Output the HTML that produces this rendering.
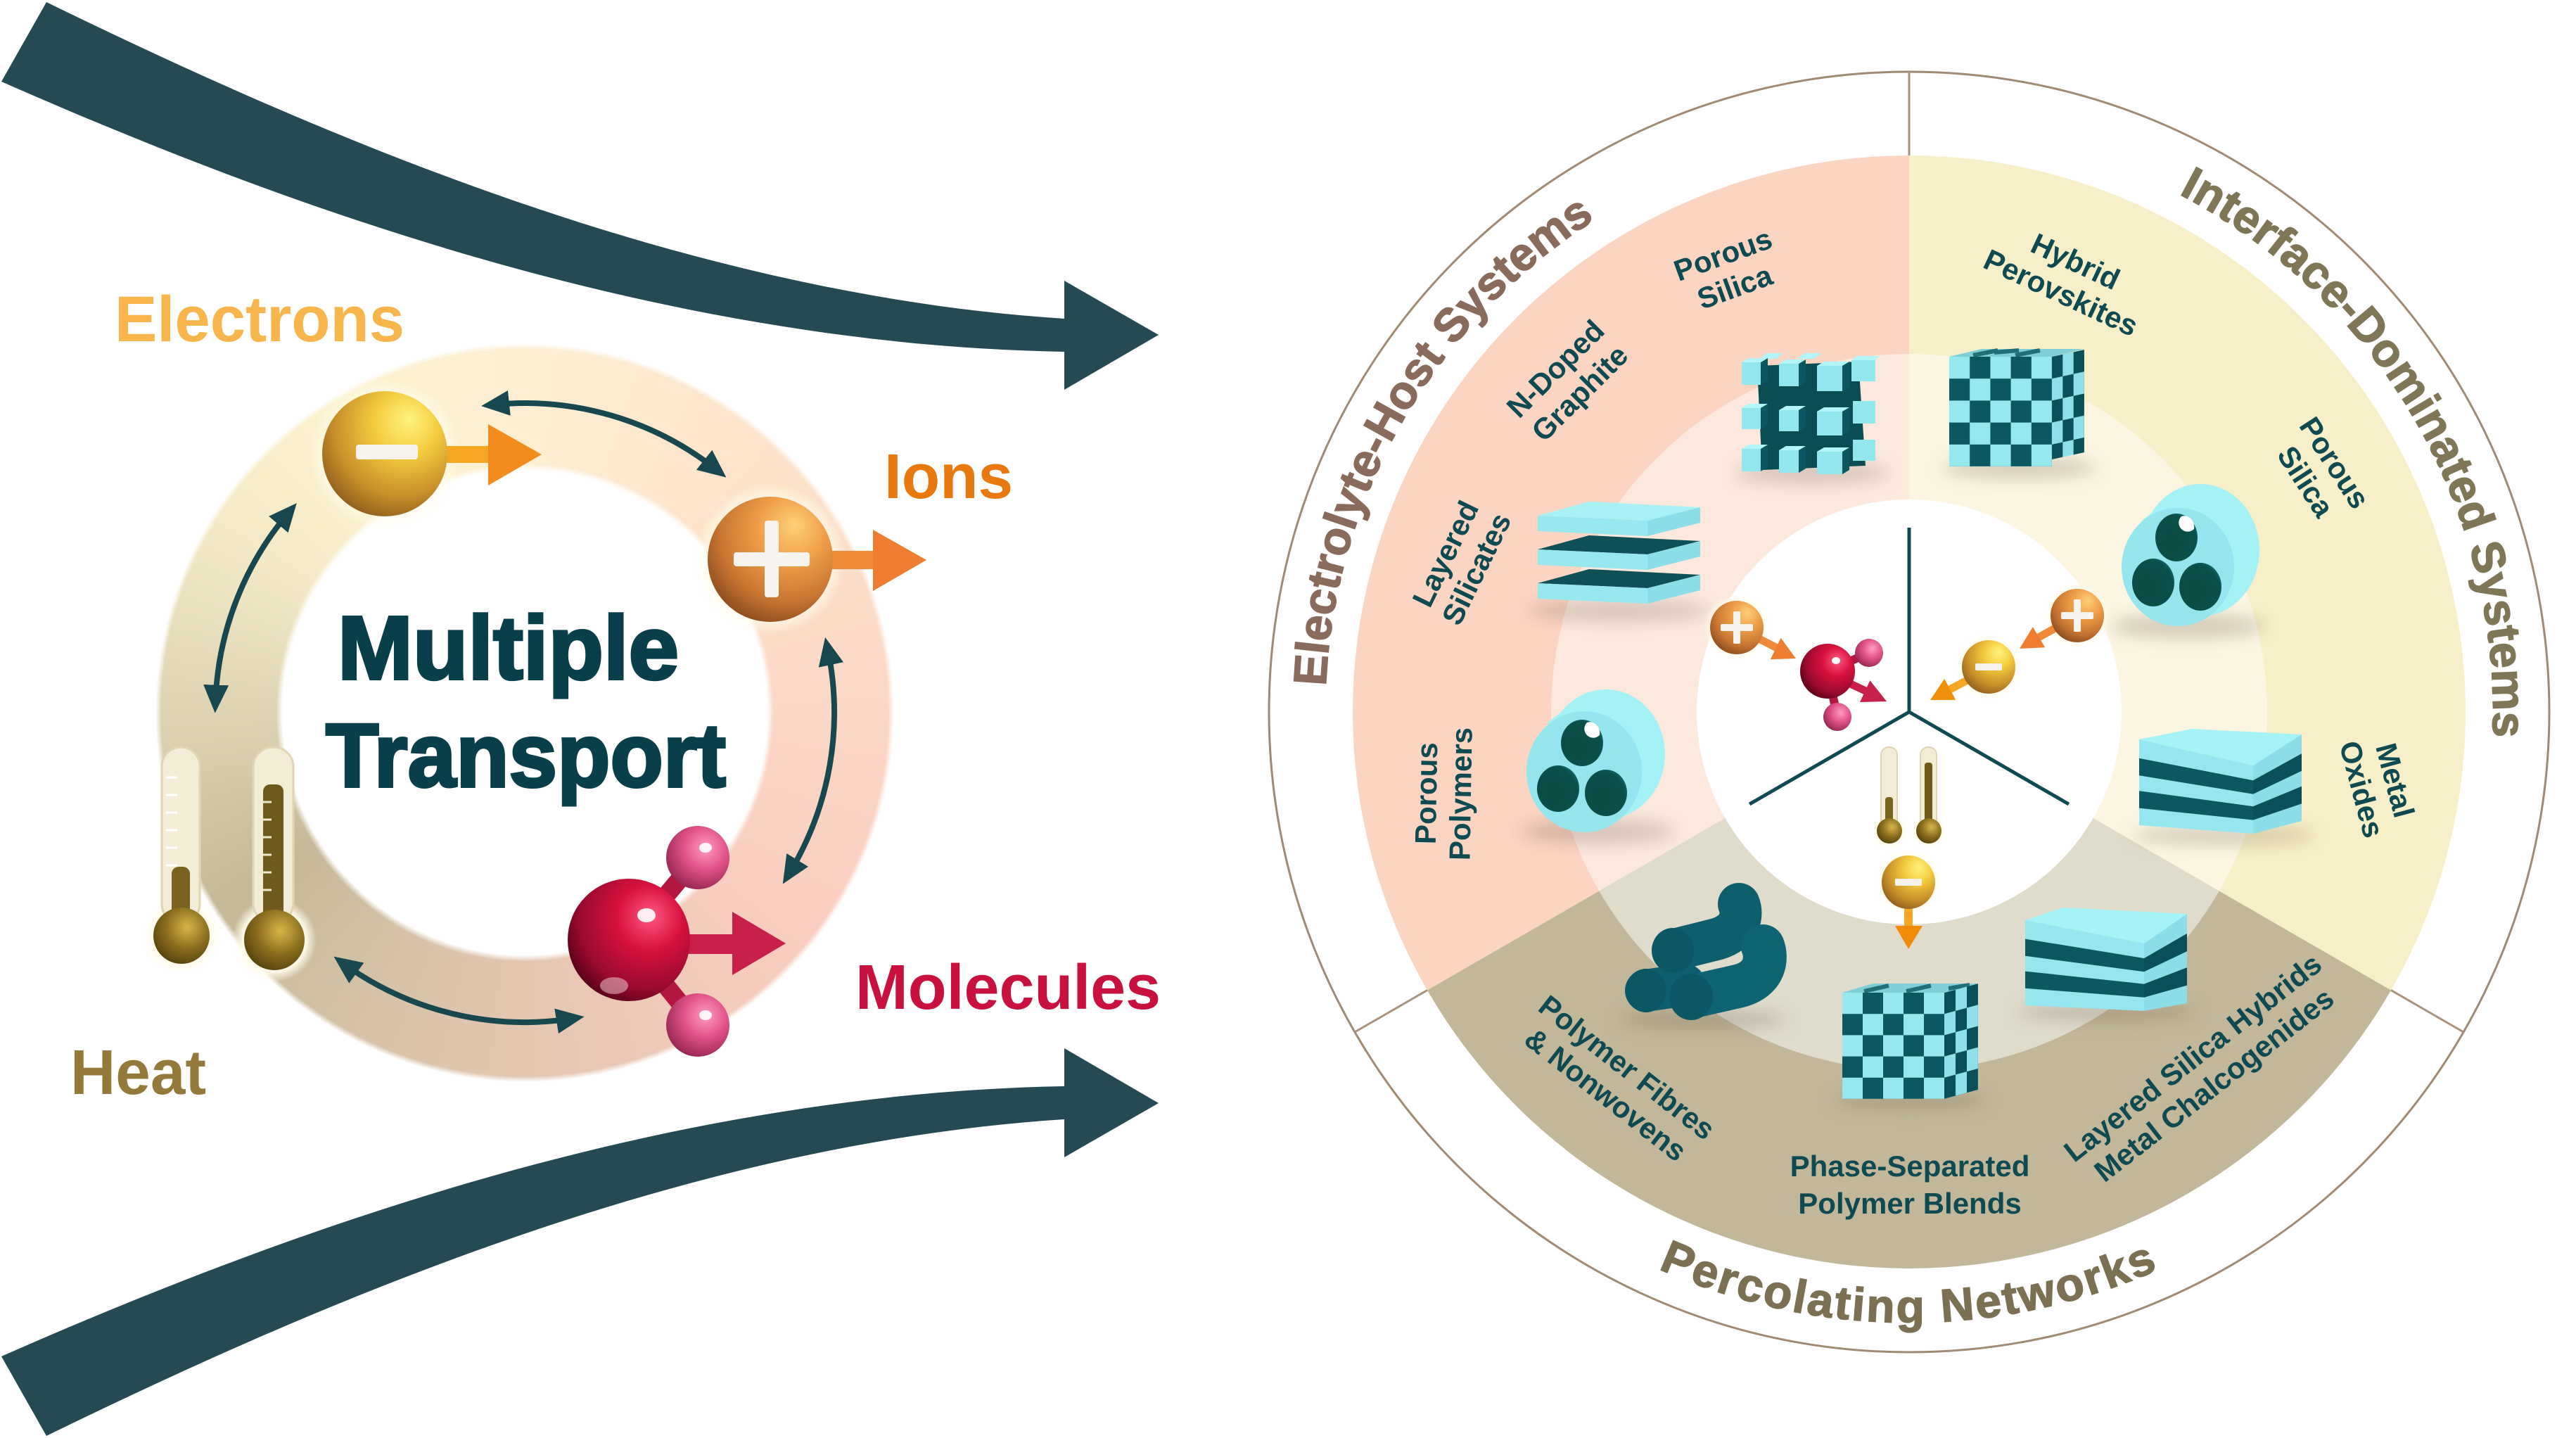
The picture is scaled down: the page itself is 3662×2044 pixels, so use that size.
<!DOCTYPE html>
<html>
<head>
<meta charset="utf-8">
<style>
html,body{margin:0;padding:0;background:#fff;}
body{width:3662px;height:2044px;position:relative;overflow:hidden;}
#ring{position:absolute;left:221px;top:488px;width:1050px;height:1050px;border-radius:50%;
background:conic-gradient(from 0deg,#fdeed3 0deg,#fde3c9 45deg,#fcd7c6 90deg,#f9cdbf 130deg,#e6c7b2 175deg,#d5c2a6 210deg,#c6b997 238deg,#dcd2b1 268deg,#f3eac5 300deg,#fcf2cd 330deg,#fdeed3 360deg);
-webkit-mask:radial-gradient(circle closest-side,transparent 65.6%,#000 67.4%,#000 98.4%,transparent 100%);
mask:radial-gradient(circle closest-side,transparent 65.6%,#000 67.4%,#000 98.4%,transparent 100%);}
svg{position:absolute;left:0;top:0;}
text{font-family:"Liberation Sans",Arial,sans-serif;font-weight:bold;}
</style>
</head>
<body>
<div id="ring"></div>
<svg width="3662" height="2044" viewBox="0 0 3662 2044" xmlns="http://www.w3.org/2000/svg">
<defs>
  <radialGradient id="gold" cx="0.62" cy="0.32" r="0.75" fx="0.7" fy="0.22">
    <stop offset="0" stop-color="#fff47e"/><stop offset="0.35" stop-color="#f3cb3e"/><stop offset="0.72" stop-color="#c9902a"/><stop offset="1" stop-color="#8a5a1c"/>
  </radialGradient>
  <radialGradient id="orng" cx="0.62" cy="0.32" r="0.75" fx="0.7" fy="0.22">
    <stop offset="0" stop-color="#ffd07a"/><stop offset="0.35" stop-color="#f0a048"/><stop offset="0.72" stop-color="#c97632"/><stop offset="1" stop-color="#86481c"/>
  </radialGradient>
  <radialGradient id="red" cx="0.65" cy="0.35" r="0.75" fx="0.68" fy="0.3">
    <stop offset="0" stop-color="#ff5a82"/><stop offset="0.35" stop-color="#d8123f"/><stop offset="0.75" stop-color="#980a2e"/><stop offset="1" stop-color="#4a0012"/>
  </radialGradient>
  <radialGradient id="pink" cx="0.62" cy="0.35" r="0.75">
    <stop offset="0" stop-color="#ff9cc2"/><stop offset="0.45" stop-color="#e2538a"/><stop offset="1" stop-color="#8a1f48"/>
  </radialGradient>
  <radialGradient id="bulb" cx="0.6" cy="0.35" r="0.75">
    <stop offset="0" stop-color="#d8b64a"/><stop offset="0.5" stop-color="#8c6f1e"/><stop offset="1" stop-color="#4c3a0a"/>
  </radialGradient>
  <radialGradient id="halo" cx="0.5" cy="0.5" r="0.5">
    <stop offset="0.75" stop-color="#fffbea" stop-opacity="0.95"/><stop offset="1" stop-color="#fffbea" stop-opacity="0"/>
  </radialGradient>
  <radialGradient id="hole" cx="0.4" cy="0.6" r="0.7">
    <stop offset="0" stop-color="#0a4a40"/><stop offset="0.8" stop-color="#0b4f4a"/><stop offset="1" stop-color="#127080"/>
  </radialGradient>
  <filter id="blur" x="-50%" y="-50%" width="200%" height="200%"><feGaussianBlur stdDeviation="12"/></filter>
  <marker id="ah" viewBox="0 0 10 10" refX="6" refY="5" markerWidth="40" markerHeight="40" markerUnits="userSpaceOnUse" orient="auto-start-reverse">
    <path d="M0,0.5 L10,5 L0,9.5 Z" fill="#17474f"/>
  </marker>
  <pattern id="chk1" patternUnits="userSpaceOnUse" x="2771" y="507" width="58.4" height="62.4">
    <rect width="58.4" height="62.4" fill="#96e8ef"/><rect x="29.2" width="29.2" height="31.2" fill="#0c5862"/><rect y="31.2" width="29.2" height="31.2" fill="#0c5862"/>
  </pattern>
  <pattern id="chkR1" patternUnits="userSpaceOnUse" x="0" y="0" width="30.66" height="62.4">
    <rect width="30.66" height="62.4" fill="#8ee0ea"/><rect width="15.33" height="31.2" fill="#0a505a"/><rect x="15.33" y="31.2" width="15.33" height="31.2" fill="#0a505a"/>
  </pattern>
  <pattern id="chk2" patternUnits="userSpaceOnUse" x="2619" y="1411" width="58" height="60.4">
    <rect width="58" height="60.4" fill="#96e8ef"/><rect x="29" width="29" height="30.2" fill="#0c5862"/><rect y="30.2" width="29" height="30.2" fill="#0c5862"/>
  </pattern>
  <pattern id="chkR2" patternUnits="userSpaceOnUse" x="0" y="0" width="32" height="60.4">
    <rect width="32" height="60.4" fill="#8ee0ea"/><rect width="16" height="30.2" fill="#0a505a"/><rect x="16" y="30.2" width="16" height="30.2" fill="#0a505a"/>
  </pattern>
  <path id="pElec" d="M 1934 1295.9 A 830 830 0 0 1 2569.9 194.6"/>
  <path id="pInt" d="M 2858.1 194.6 A 830 830 0 0 1 3494 1295.9"/>
  <path id="pPerc" d="M 2049.1 1569.9 A 868 868 0 0 0 3378.9 1569.9"/>
</defs>

<!-- ============ LEFT: swooshes ============ -->
<path d="M 66,3 C 500,215 1000,420 1513,453 L 1513,399 L 1647,476 L 1513,554 L 1513,500 C 950,490 420,300 2,116 Z" fill="#244b54"/>
<path d="M 66,2041 C 500,1829 1000,1624 1513,1591 L 1513,1645 L 1647,1568 L 1513,1490 L 1513,1544 C 950,1554 420,1744 2,1928 Z" fill="#244b54"/>

<!-- labels -->
<text x="163" y="485" font-size="92" fill="#f8b54b" textLength="412" lengthAdjust="spacingAndGlyphs">Electrons</text>
<text x="1257" y="708" font-size="90" fill="#e8790f" textLength="183" lengthAdjust="spacingAndGlyphs">Ions</text>
<text x="1216" y="1434" font-size="90" fill="#c8113f" textLength="434" lengthAdjust="spacingAndGlyphs">Molecules</text>
<text x="100" y="1555" font-size="90" fill="#94793a" textLength="193" lengthAdjust="spacingAndGlyphs">Heat</text>
<text x="480" y="965" font-size="128" fill="#083f4a" stroke="#083f4a" stroke-width="4" textLength="485" lengthAdjust="spacingAndGlyphs">Multiple</text>
<text x="463" y="1118" font-size="128" fill="#083f4a" stroke="#083f4a" stroke-width="4" textLength="569" lengthAdjust="spacingAndGlyphs">Transport</text>

<!-- double arrows -->
<g fill="none" stroke="#17474f" stroke-width="8" marker-start="url(#ah)" marker-end="url(#ah)">
  <path d="M 700.0 575.4 A 440 440 0 0 1 1019.9 668.7"/>
  <path d="M 411.4 727.3 A 440 440 0 0 0 306.3 997.6"/>
  <path d="M 1176.4 921.5 A 440 440 0 0 1 1121.1 1242.9"/>
  <path d="M 487.4 1369.0 A 440 440 0 0 0 814.8 1447.6"/>
</g>

<!-- electron -->
<circle cx="547" cy="645" r="108" fill="url(#halo)"/>
<rect x="628" y="634" width="68" height="24" fill="#f5a623"/>
<polygon points="694,603 770,646 694,690" fill="#f28c1c"/>
<circle cx="547" cy="645" r="89" fill="url(#gold)"/>
<rect x="506" y="632" width="88" height="21" rx="4" fill="#f7f3ec"/>

<!-- ion -->
<circle cx="1095" cy="795" r="108" fill="url(#halo)"/>
<rect x="1175" y="783" width="68" height="26" fill="#f08a36"/>
<polygon points="1241,753 1317,796 1241,840" fill="#ef7d2f"/>
<circle cx="1095" cy="795" r="89" fill="url(#orng)"/>
<rect x="1043" y="785" width="108" height="20" rx="4" fill="#f7f3ee"/>
<rect x="1087" y="740" width="20" height="109" rx="4" fill="#f7f3ee"/>

<!-- molecule -->
<rect x="975" y="1328" width="68" height="28" fill="#c8204a"/>
<polygon points="1041,1296 1117,1341 1041,1386" fill="#c8204a"/>
<line x1="894" y1="1336" x2="992" y2="1219" stroke="#b3173f" stroke-width="26"/>
<line x1="894" y1="1336" x2="992" y2="1457" stroke="#b3173f" stroke-width="26"/>
<circle cx="992" cy="1219" r="45" fill="url(#pink)"/>
<circle cx="992" cy="1457" r="45" fill="url(#pink)"/>
<circle cx="894" cy="1336" r="87" fill="url(#red)"/>
<ellipse cx="919" cy="1301" rx="13" ry="10" fill="#fff" opacity="0.9"/>
<ellipse cx="873" cy="1401" rx="20" ry="12" fill="#e8b4c0" opacity="0.6"/>
<ellipse cx="1003" cy="1205" rx="9" ry="7" fill="#fff" opacity="0.9"/>
<ellipse cx="1003" cy="1443" rx="9" ry="7" fill="#fff" opacity="0.9"/>

<!-- thermometers (left) -->
<circle cx="258" cy="1330" r="54" fill="url(#halo)"/>
<rect x="230" y="1062" width="54" height="250" rx="27" fill="#f3ecd6" stroke="#e2d5b2" stroke-width="3"/>
<rect x="244" y="1232" width="26" height="90" rx="10" fill="#7a6320"/>
<circle cx="258" cy="1330" r="40" fill="url(#bulb)"/>
<g stroke="#ffffff" stroke-width="3"><line x1="236" y1="1105" x2="252" y2="1105"/><line x1="236" y1="1130" x2="252" y2="1130"/><line x1="236" y1="1155" x2="252" y2="1155"/><line x1="236" y1="1180" x2="252" y2="1180"/><line x1="236" y1="1205" x2="252" y2="1205"/><line x1="236" y1="1230" x2="252" y2="1230"/></g>
<circle cx="390" cy="1336" r="60" fill="url(#halo)"/>
<rect x="360" y="1062" width="57" height="250" rx="28" fill="#f3ecd6" stroke="#e2d5b2" stroke-width="3"/>
<rect x="374" y="1115" width="29" height="205" rx="10" fill="#6e5a1c"/>
<circle cx="390" cy="1336" r="43" fill="url(#bulb)"/>
<g stroke="#f0e8d0" stroke-width="3"><line x1="368" y1="1140" x2="386" y2="1140"/><line x1="368" y1="1165" x2="386" y2="1165"/><line x1="368" y1="1190" x2="386" y2="1190"/><line x1="368" y1="1215" x2="386" y2="1215"/><line x1="368" y1="1240" x2="386" y2="1240"/><line x1="368" y1="1265" x2="386" y2="1265"/></g>

<!-- ============ RIGHT: circle ============ -->
<circle cx="2714" cy="1012" r="910" fill="#ffffff" stroke="#a08a74" stroke-width="3"/>
<path d="M 2714 1012 L 2029 1407.5 A 791 791 0 0 1 2714 221 Z" fill="#fcd5c2"/>
<path d="M 2714 1012 L 2714 221 A 791 791 0 0 1 3399 1407.5 Z" fill="#f7efc7"/>
<path d="M 2714 1012 L 3399 1407.5 A 791 791 0 0 1 2029 1407.5 Z" fill="#c2b899"/>
<path d="M 2714 1012 L 2273.2 1266.5 A 509 509 0 0 1 2714 503 Z" fill="#fde8de"/>
<path d="M 2714 1012 L 2714 503 A 509 509 0 0 1 3154.8 1266.5 Z" fill="#fbf5e2"/>
<path d="M 2714 1012 L 3154.8 1266.5 A 509 509 0 0 1 2273.2 1266.5 Z" fill="#e0dccc"/>
<circle cx="2714" cy="1012" r="302" fill="#ffffff"/>
<g stroke="#a9927c" stroke-width="3">
  <line x1="2714" y1="221" x2="2714" y2="102"/>
  <line x1="3399" y1="1407.5" x2="3502.1" y2="1467"/>
  <line x1="2029" y1="1407.5" x2="1925.9" y2="1467"/>
</g>
<g stroke="#0f4a52" stroke-width="5">
  <line x1="2714" y1="1012" x2="2714" y2="750"/>
  <line x1="2714" y1="1012" x2="2487.1" y2="1143"/>
  <line x1="2714" y1="1012" x2="2940.9" y2="1143"/>
</g>

<!-- curved titles -->
<text font-size="66" fill="#8a6a5a" stroke="#8a6a5a" stroke-width="1.5" letter-spacing="0"><textPath href="#pElec" startOffset="50%" text-anchor="middle">Electrolyte-Host Systems</textPath></text>
<text font-size="66" fill="#7f7655" stroke="#7f7655" stroke-width="1.5" letter-spacing="0.5"><textPath href="#pInt" startOffset="50%" text-anchor="middle">Interface-Dominated Systems</textPath></text>
<text font-size="66" fill="#7b7052" stroke="#7b7052" stroke-width="1.5" letter-spacing="3"><textPath href="#pPerc" startOffset="50%" text-anchor="middle">Percolating Networks</textPath></text>

<!-- shadows -->
<g fill="#6b5a48" opacity="0.28" filter="url(#blur)">
  <ellipse cx="2575" cy="672" rx="110" ry="14"/>
  <ellipse cx="2870" cy="665" rx="110" ry="14"/>
  <ellipse cx="2300" cy="868" rx="130" ry="14"/>
  <ellipse cx="2270" cy="1182" rx="110" ry="16"/>
  <ellipse cx="3110" cy="890" rx="110" ry="16"/>
  <ellipse cx="3160" cy="1187" rx="130" ry="12"/>
  <ellipse cx="2420" cy="1449" rx="120" ry="14"/>
  <ellipse cx="2715" cy="1564" rx="110" ry="13"/>
  <ellipse cx="2995" cy="1439" rx="130" ry="12"/>
</g>

<!-- 3D grid (porous silica) -->
<polygon points="2498,520 2642,514 2652,662 2505,668" fill="#0a4d55"/>
<g>
  <polygon points="2501,510 2511,502 2535,502 2525,510" fill="#b3f5f8"/>
  <polygon points="2555,510 2565,502 2589,502 2579,510" fill="#b3f5f8"/>
  <rect x="2632" y="512" width="34" height="30" fill="#92e6ee"/>
  <polygon points="2632,512 2640,506 2672,506 2666,512" fill="#b3f5f8"/>
  <rect x="2634" y="570" width="32" height="32" fill="#92e6ee"/>
  <rect x="2634" y="625" width="32" height="30" fill="#92e6ee"/>
</g>
<g>
  <polygon points="2503,515 2513,509 2513,541 2503,547" fill="#0b5660"/>
  <rect x="2476" y="515" width="27" height="32" fill="#92e6ee"/>
  <polygon points="2476,515 2486,509 2513,509 2503,515" fill="#b3f5f8"/>
  <polygon points="2557,517 2567,511 2567,543 2557,549" fill="#0b5660"/>
  <rect x="2529" y="517" width="28" height="32" fill="#92e6ee"/>
  <polygon points="2529,517 2539,511 2567,511 2557,517" fill="#b3f5f8"/>
  <polygon points="2619,520 2629,514 2629,550 2619,556" fill="#0b5660"/>
  <rect x="2583" y="520" width="36" height="36" fill="#92e6ee"/>
  <polygon points="2583,520 2593,514 2629,514 2619,520" fill="#b3f5f8"/>
  <polygon points="2503,580 2513,574 2513,604 2503,610" fill="#0b5660"/>
  <rect x="2476" y="580" width="27" height="30" fill="#92e6ee"/>
  <polygon points="2476,580 2486,574 2513,574 2503,580" fill="#b3f5f8"/>
  <polygon points="2557,583 2567,577 2567,607 2557,613" fill="#0b5660"/>
  <rect x="2529" y="583" width="28" height="30" fill="#92e6ee"/>
  <polygon points="2529,583 2539,577 2567,577 2557,583" fill="#b3f5f8"/>
  <polygon points="2619,585 2629,579 2629,613 2619,619" fill="#0b5660"/>
  <rect x="2583" y="585" width="36" height="34" fill="#92e6ee"/>
  <polygon points="2583,585 2593,579 2629,579 2619,585" fill="#b3f5f8"/>
  <polygon points="2503,638 2513,632 2513,664 2503,670" fill="#0b5660"/>
  <rect x="2476" y="638" width="27" height="32" fill="#92e6ee"/>
  <polygon points="2476,638 2486,632 2513,632 2503,638" fill="#b3f5f8"/>
  <polygon points="2557,640 2567,634 2567,666 2557,672" fill="#0b5660"/>
  <rect x="2529" y="640" width="28" height="32" fill="#92e6ee"/>
  <polygon points="2529,640 2539,634 2567,634 2557,640" fill="#b3f5f8"/>
  <polygon points="2619,642 2629,636 2629,668 2619,674" fill="#0b5660"/>
  <rect x="2583" y="642" width="36" height="32" fill="#92e6ee"/>
  <polygon points="2583,642 2593,636 2629,636 2619,642" fill="#b3f5f8"/>
</g>

<!-- checker cube top -->
<polygon points="2771,507 2817,496 2963,496 2917,507" fill="#7fcfd6"/>
<g stroke="#0c5862" stroke-width="6" opacity="0.8"><line x1="2805" y1="505" x2="2840" y2="498"/><line x1="2865" y1="505" x2="2900" y2="498"/><line x1="2835" y1="501" x2="2870" y2="498"/></g>
<rect x="2771" y="507" width="146" height="156" fill="url(#chk1)"/>
<g transform="matrix(1,-0.217,0,1,2917,507)"><rect x="0" y="0" width="46" height="146" fill="url(#chkR1)"/></g>

<!-- layered slab left -->
<g>
  <polygon points="2186,829 2259,809 2417,817 2342,836" fill="#0f4f57"/>
  <polygon points="2186,829 2342,836 2342,858 2186,851" fill="#97e7ef"/>
  <polygon points="2342,836 2417,817 2417,839 2342,858" fill="#8bdde8"/>
  <polygon points="2186,781 2259,761 2417,769 2342,788" fill="#0f4f57"/>
  <polygon points="2186,781 2342,788 2342,810 2186,803" fill="#97e7ef"/>
  <polygon points="2342,788 2417,769 2417,791 2342,810" fill="#8bdde8"/>
  <polygon points="2186,733 2259,713 2417,721 2342,740" fill="#a8f2f6"/>
  <polygon points="2186,733 2342,740 2342,762 2186,755" fill="#97e7ef"/>
  <polygon points="2342,740 2417,721 2417,743 2342,762" fill="#8bdde8"/>
</g>

<!-- cylinder left -->
<g>
  <ellipse cx="2283" cy="1072" rx="84" ry="92" fill="#a4f1f6"/>
  <polygon points="2308,1155 2340,1130 2235,1000 2200,1027" fill="#a4f1f6"/>
  <ellipse cx="2252" cy="1097" rx="82" ry="86" fill="#94e5ee"/>
  <ellipse cx="2249" cy="1056" rx="30" ry="33" fill="url(#hole)"/>
  <ellipse cx="2215" cy="1121" rx="30" ry="33" fill="url(#hole)"/>
  <ellipse cx="2283" cy="1127" rx="30" ry="33" fill="url(#hole)"/>
  <path d="M 2256 1027 A 14 16 0 0 1 2274 1045 A 12 12 0 0 1 2256 1027 Z" fill="#ffffff"/>
</g>

<!-- cylinder right -->
<g>
  <ellipse cx="3128" cy="782" rx="84" ry="94" fill="#a4f1f6"/>
  <polygon points="3150,866 3185,838 3080,712 3045,740" fill="#a4f1f6"/>
  <ellipse cx="3096" cy="806" rx="80" ry="84" fill="#94e5ee"/>
  <ellipse cx="3094" cy="764" rx="30" ry="34" fill="url(#hole)"/>
  <ellipse cx="3061" cy="828" rx="30" ry="34" fill="url(#hole)"/>
  <ellipse cx="3128" cy="834" rx="30" ry="34" fill="url(#hole)"/>
  <path d="M 3101 734 A 14 16 0 0 1 3119 752 A 12 12 0 0 1 3101 734 Z" fill="#ffffff"/>
</g>

<!-- metal oxides slab -->
<g>
  <polygon points="3041,1051 3116,1036 3272,1044 3203,1088" fill="#a6f3f7"/>
  <polygon points="3041,1051 3203,1088 3203,1185 3041,1173" fill="#95e6ee"/>
  <polygon points="3203,1088 3272,1044 3272,1167 3203,1185" fill="#8bdde8"/>
  <polygon points="3041,1077.8 3203,1109.3 3203,1128.7 3041,1102.2" fill="#0c5862"/>
  <polygon points="3041,1124.2 3203,1146.2 3203,1165.6 3041,1148.6" fill="#0c5862"/>
  <polygon points="3203,1109.3 3272,1071.1 3272,1095.7 3203,1128.7" fill="#0a505a"/>
  <polygon points="3203,1146.2 3272,1117.8 3272,1142.4 3203,1165.6" fill="#0a505a"/>
</g>

<!-- bottom-right slab -->
<g>
  <polygon points="2879,1308 2933,1290 3109,1299 3048,1341" fill="#a6f3f7"/>
  <polygon points="2879,1308 3048,1341 3048,1437 2879,1429" fill="#95e6ee"/>
  <polygon points="3048,1341 3109,1299 3109,1426 3048,1437" fill="#8bdde8"/>
  <polygon points="2879,1334.6 3048,1362.1 3048,1381.3 2879,1358.8" fill="#0c5862"/>
  <polygon points="2879,1380.6 3048,1398.6 3048,1417.8 2879,1404.8" fill="#0c5862"/>
  <polygon points="3048,1362.1 3109,1326.9 3109,1352.3 3048,1381.3" fill="#0a505a"/>
  <polygon points="3048,1398.6 3109,1375.2 3109,1400.6 3048,1417.8" fill="#0a505a"/>
</g>

<!-- checker cube bottom -->
<polygon points="2619,1411 2662,1398 2812,1398 2764,1411" fill="#7fcfd6"/>
<g stroke="#0c5862" stroke-width="6" opacity="0.8"><line x1="2650" y1="1409" x2="2685" y2="1401"/><line x1="2710" y1="1409" x2="2745" y2="1401"/><line x1="2770" y1="1405" x2="2800" y2="1400"/></g>
<rect x="2619" y="1411" width="145" height="151" fill="url(#chk2)"/>
<g transform="matrix(1,-0.27,0,1,2764,1411)"><rect x="0" y="0" width="48" height="151" fill="url(#chkR2)"/></g>

<!-- polymer fibres -->
<g fill="none" stroke-linecap="round">
  <path d="M 2380 1350 L 2440 1335 C 2475 1325 2478 1300 2472 1285" stroke="#0e5f6e" stroke-width="60"/>
  <path d="M 2340 1408 L 2395 1400" stroke="#0e5f6e" stroke-width="60"/>
  <path d="M 2404 1417 L 2470 1402 C 2512 1392 2512 1360 2506 1345" stroke="#0f6474" stroke-width="62"/>
</g>
<ellipse cx="2378" cy="1351" rx="30" ry="32" fill="#0c5766"/>
<ellipse cx="2340" cy="1408" rx="29" ry="31" fill="#0c5766"/>
<ellipse cx="2404" cy="1417" rx="31" ry="33" fill="#0c5766"/>

<!-- center icons -->
<circle cx="2469" cy="892" r="47" fill="url(#halo)"/>
<line x1="2497" y1="906" x2="2526" y2="921" stroke="#f08a36" stroke-width="11"/>
<polygon points="2553,936 2516.8,937.3 2531.6,906.7" fill="#ef7d2f"/>
<circle cx="2469" cy="892" r="38" fill="url(#orng)"/>
<rect x="2446" y="887" width="46" height="10" rx="2" fill="#f7f3ee"/>
<rect x="2464" y="869" width="10" height="46" rx="2" fill="#f7f3ee"/>

<line x1="2622" y1="968" x2="2652" y2="982" stroke="#c8204a" stroke-width="11"/>
<polygon points="2682,997 2644,998 2658.4,967.2" fill="#c8204a"/>
<line x1="2598" y1="954" x2="2657" y2="928" stroke="#b3173f" stroke-width="12"/>
<line x1="2598" y1="954" x2="2612" y2="1019" stroke="#b3173f" stroke-width="12"/>
<circle cx="2657" cy="928" r="20" fill="url(#pink)"/>
<circle cx="2612" cy="1019" r="20" fill="url(#pink)"/>
<circle cx="2598" cy="954" r="39" fill="url(#red)"/>
<ellipse cx="2610" cy="939" rx="6" ry="5" fill="#fff"/>

<circle cx="2953" cy="875" r="47" fill="url(#halo)"/>
<line x1="2925" y1="891" x2="2898" y2="906" stroke="#f08a36" stroke-width="11"/>
<polygon points="2871,922 2889.8,891.1 2907.2,920.3" fill="#ef7d2f"/>
<circle cx="2953" cy="875" r="38" fill="url(#orng)"/>
<rect x="2930" y="870" width="46" height="10" rx="2" fill="#f7f3ee"/>
<rect x="2948" y="852" width="10" height="46" rx="2" fill="#f7f3ee"/>

<circle cx="2827" cy="948" r="47" fill="url(#halo)"/>
<line x1="2800" y1="965" x2="2772" y2="980" stroke="#f5a623" stroke-width="11"/>
<polygon points="2744,995 2764.2,964.9 2780.2,994.9" fill="#f0900a"/>
<circle cx="2827" cy="948" r="38" fill="url(#gold)"/>
<rect x="2808" y="943" width="38" height="10" rx="2" fill="#f7f3ec"/>

<circle cx="2686" cy="1181" r="25" fill="url(#halo)"/>
<rect x="2674" y="1062" width="23" height="115" rx="11" fill="#f3ecd6" stroke="#e2d5b2" stroke-width="2"/>
<rect x="2680" y="1133" width="11" height="50" rx="4" fill="#7a6320"/>
<circle cx="2686" cy="1181" r="18" fill="url(#bulb)"/>
<circle cx="2742" cy="1181" r="25" fill="url(#halo)"/>
<rect x="2730" y="1062" width="23" height="115" rx="11" fill="#f3ecd6" stroke="#e2d5b2" stroke-width="2"/>
<rect x="2736" y="1084" width="11" height="99" rx="4" fill="#6e5a1c"/>
<circle cx="2742" cy="1181" r="18" fill="url(#bulb)"/>

<circle cx="2713" cy="1254" r="47" fill="url(#halo)"/>
<rect x="2707" y="1290" width="12" height="28" fill="#f5a623"/>
<polygon points="2694,1316 2733,1316 2713,1349" fill="#f08c0a"/>
<circle cx="2713" cy="1254" r="38" fill="url(#gold)"/>
<rect x="2694" y="1249" width="38" height="10" rx="2" fill="#f7f3ec"/>

<!-- category labels -->
<g font-size="42" fill="#0d4a52" text-anchor="middle">
  <g transform="translate(2457,383) rotate(-20)"><text y="-8">Porous</text><text y="41">Silica</text></g>
  <g transform="translate(2227,540) rotate(-45)"><text y="-8">N-Doped</text><text y="41">Graphite</text></g>
  <g transform="translate(2075,797) rotate(-64)"><text y="-8">Layered</text><text y="41">Silicates</text></g>
  <g transform="translate(2050,1128) rotate(-89)"><text y="-8">Porous</text><text y="41">Polymers</text></g>
  <g transform="translate(2941,392) rotate(25)"><text y="-8">Hybrid</text><text y="41">Perovskites</text></g>
  <g transform="translate(3300,670) rotate(57)"><text y="-8">Porous</text><text y="41">Silica</text></g>
  <g transform="translate(3383,1115) rotate(75)"><text y="-8">Metal</text><text y="41">Oxides</text></g>
  <g transform="translate(2299,1535) rotate(38)"><text y="-8">Polymer Fibres</text><text y="41">&amp; Nonwovens</text></g>
  <g transform="translate(2715,1680) rotate(0)"><text y="-8">Phase-Separated</text><text y="45">Polymer Blends</text></g>
  <g transform="translate(3131,1521) rotate(-38)"><text y="-8">Layered Silica Hybrids</text><text y="41">Metal Chalcogenides</text></g>
</g>
</svg>
</body>
</html>
